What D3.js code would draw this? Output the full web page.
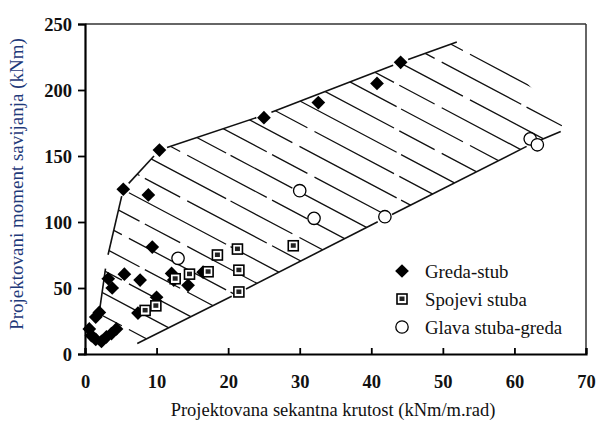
<!DOCTYPE html>
<html>
<head>
<meta charset="utf-8">
<script src="https://cdn.jsdelivr.net/npm/d3@7"></script>
<style>
  html, body { margin: 0; padding: 0; background: #fff; }
  svg { display: block; }
  text { font-family: "Liberation Serif", "Times New Roman", Times, serif; }
</style>
</head>
<body>
<svg id="chart" width="597" height="423"></svg>
<script>
// Greda-stub (beam-column) points: [stiffness, moment]
const gredaStub = [
  [44.1, 221], [40.8, 205], [32.6, 190.5], [25, 179], [10.4, 154.5],
  [5.35, 124.8], [8.85, 120.5], [9.4, 81], [5.5, 60.5], [3.25, 57],
  [3.8, 50], [7.7, 56], [10, 43], [2.0, 31.5], [1.5, 28], [7.4, 31],
  [12.1, 61], [12.4, 56], [14.4, 52], [16.5, 62],
  [0.6, 19], [0.9, 14], [1.5, 11], [2.3, 9.5], [3.0, 13], [3.7, 15.5], [4.4, 19]
];
// Spojevi stuba (column splices)
const spojeviStuba = [
  [8.4, 33], [9.9, 36.5], [12.6, 57], [14.6, 60.5], [17.2, 62.3],
  [18.5, 75], [21.3, 79.5], [21.5, 63.5], [21.5, 47], [29.1, 82]
];
// Glava stuba-greda (column head - beam)
const glavaStubaGreda = [
  [13, 72.5], [30, 123.7], [32, 102.8], [41.9, 104], [62.2, 163], [63.2, 158.5]
];

// Envelope edges of the hatched region
const topEdge = [[5.35, 124.8], [10.4, 154.5], [25, 181], [44.1, 221], [53, 238.5]];
const leftEdge = [[1.8, 24], [3.0, 70], [5.35, 124.8]];
const bottomEdge = [[6.3, 5.3], [21.5, 46.5], [41.9, 103], [62.7, 160], [67.5, 171]];
const rightEdge = [[53, 238.5], [60.8, 211], [67.5, 171]];

const xTicks = [0, 10, 20, 30, 40, 50, 60, 70];
const yTicks = [0, 50, 100, 150, 200, 250];

const legendLabels = ["Greda-stub", "Spojevi stuba", "Glava stuba-greda"];
const xTitle = "Projektovana sekantna krutost (kNm/m.rad)";
const yTitle = "Projektovani moment savijanja (kNm)";

const svg = d3.select("#chart");
const x = d3.scaleLinear().domain([0, 70]).range([85, 586]);
const y = d3.scaleLinear().domain([0, 250]).range([354, 24]);

// ---- hatching, clipped to the envelope polygon ----
const clipPoly = [...leftEdge, ...topEdge.slice(1), ...rightEdge.slice(1),
  ...bottomEdge.slice().reverse()].map(d => [x(d[0]), y(d[1])]);
svg.append("clipPath").attr("id", "env")
  .append("path").attr("d", "M" + clipPoly.join("L") + "Z");

const hatchSlope = 0.53;      // screen-space slope of hatch lines
const hatchStep = 22.8;       // vertical spacing between hatch lines (px)
const hatchBase = -194.8;
const offsets = d3.range(-2, 26).map(k => hatchBase + k * hatchStep);
svg.append("g").attr("clip-path", "url(#env)")
  .selectAll("line").data(offsets).join("line")
  .attr("x1", 60).attr("y1", c => hatchSlope * 60 + c)
  .attr("x2", 600).attr("y2", c => hatchSlope * 600 + c)
  .attr("stroke", "#111").attr("stroke-width", 1.3)
  .attr("stroke-dasharray", (c, i) => i % 2 ? "90,6,40,8" : "70,8,110,5");

// ---- envelope boundary, broken near each vertex ----
function edgeSegments(pts, gap) {
  const segs = [];
  for (let i = 0; i < pts.length - 1; i++) {
    const a = [x(pts[i][0]), y(pts[i][1])], b = [x(pts[i + 1][0]), y(pts[i + 1][1])];
    const len = Math.hypot(b[0] - a[0], b[1] - a[1]);
    const ux = (b[0] - a[0]) / len, uy = (b[1] - a[1]) / len;
    segs.push([a[0] + ux * gap, a[1] + uy * gap, b[0] - ux * gap, b[1] - uy * gap]);
  }
  return segs;
}
const boundary = [...edgeSegments(topEdge, 8), ...edgeSegments(leftEdge, 7), ...edgeSegments(bottomEdge, 8)];
svg.append("g").selectAll("line").data(boundary).join("line")
  .attr("x1", d => d[0]).attr("y1", d => d[1]).attr("x2", d => d[2]).attr("y2", d => d[3])
  .attr("stroke", "#111").attr("stroke-width", 1.6);

// ---- frame and axes ----
svg.append("line").attr("x1", x(0)).attr("x2", x(70)).attr("y1", y(250)).attr("y2", y(250))
  .attr("stroke", "#333").attr("stroke-width", 1.5);
svg.append("line").attr("x1", x(70)).attr("x2", x(70)).attr("y1", y(250)).attr("y2", y(0))
  .attr("stroke", "#333").attr("stroke-width", 1.5);

const yAxis = svg.append("g").attr("transform", `translate(${x(0)},0)`)
  .call(d3.axisLeft(y).tickValues(yTicks).tickSize(7).tickPadding(6).tickFormat(d3.format("d")));
const xAxis = svg.append("g").attr("transform", `translate(0,${y(0)})`)
  .call(d3.axisBottom(x).tickValues(xTicks).tickSize(-6).tickFormat(d3.format("d")));
[yAxis, xAxis].forEach(g => {
  g.attr("font-family", null).attr("font-size", null);
  g.select(".domain").attr("stroke", "#000").attr("stroke-width", 2.2);
  g.selectAll(".tick line").attr("stroke", "#000").attr("stroke-width", 1.8);
  g.selectAll(".tick text").attr("font-weight", "bold")
    .style("font-size", "18.5px").attr("fill", "#111");
});
yAxis.selectAll(".tick text").attr("dy", "0.33em");
xAxis.selectAll(".tick text").attr("y", 34).attr("dy", 0);

// ---- markers ----
const diamond = d3.symbol().type(d3.symbolDiamond2).size(120);
function drawDiamond(sel) {
  sel.append("path").attr("d", diamond()).attr("fill", "#000");
}
function drawSquare(sel) {
  sel.append("rect").attr("x", -5).attr("y", -5).attr("width", 10).attr("height", 10)
    .attr("fill", "#fff").attr("stroke", "#000").attr("stroke-width", 1.6);
  sel.append("rect").attr("x", -2.5).attr("y", -2.5).attr("width", 5).attr("height", 4.5)
    .attr("fill", "#222");
}
function drawCircle(sel) {
  sel.append("circle").attr("r", 6.2).attr("fill", "#fff")
    .attr("stroke", "#000").attr("stroke-width", 1.3);
}

svg.append("g").selectAll("g").data(glavaStubaGreda).join("g")
  .attr("transform", d => `translate(${x(d[0])},${y(d[1])})`).call(drawCircle);
svg.append("g").selectAll("g").data(gredaStub).join("g")
  .attr("transform", d => `translate(${x(d[0])},${y(d[1])})`).call(drawDiamond);
svg.append("g").selectAll("g").data(spojeviStuba).join("g")
  .attr("transform", d => `translate(${x(d[0])},${y(d[1])})`).call(drawSquare);

// ---- legend ----
const painters = [drawDiamond, drawSquare, drawCircle];
const legend = svg.append("g").attr("transform", "translate(402,271)");
const items = legend.selectAll("g").data(legendLabels).join("g")
  .attr("transform", (d, i) => `translate(0,${i * 28})`);
items.each(function (d, i) { d3.select(this).append("g").call(painters[i]); });
items.append("text").attr("x", 23).attr("dy", "0.35em")
  .style("font-size", "18.8px").attr("fill", "#111").text(d => d);

// ---- axis titles ----
svg.append("text").attr("x", 333).attr("y", 416).attr("text-anchor", "middle")
  .style("font-size", "18.5px").attr("fill", "#111").text(xTitle);
svg.append("text").attr("transform", "translate(23,184) rotate(-90)").attr("text-anchor", "middle")
  .style("font-size", "19px").attr("fill", "#1f3a7a").text(yTitle);
</script>
</body>
</html>
